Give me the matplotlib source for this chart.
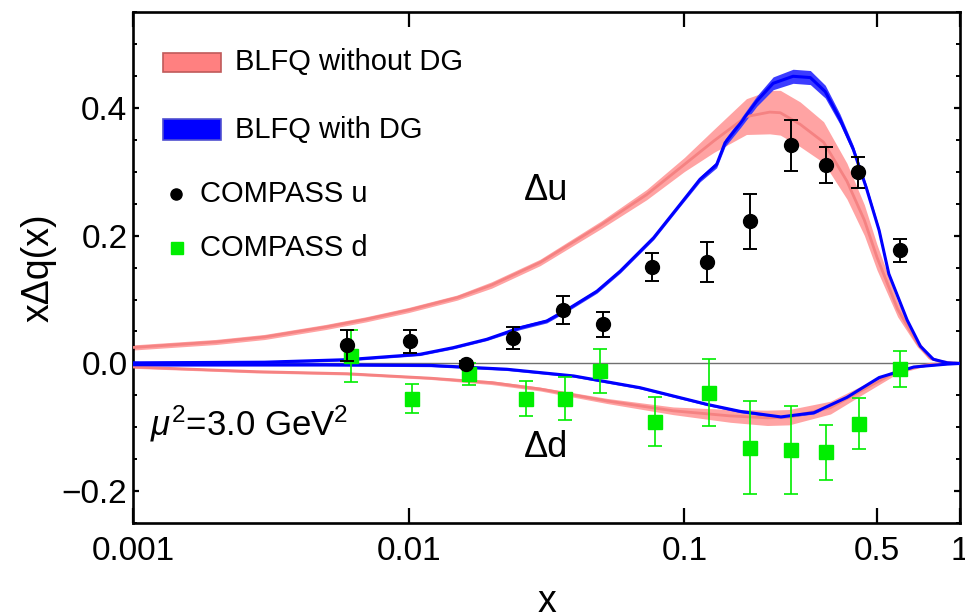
import matplotlib.pyplot as plt
import numpy as np
from matplotlib.patches import Rectangle

plt.rcParams['font.family'] = ['Liberation Sans', 'DejaVu Sans']
plt.rcParams['mathtext.fontset'] = 'custom'
plt.rcParams['mathtext.rm'] = 'Liberation Sans'
plt.rcParams['mathtext.it'] = 'Liberation Sans:italic'

# BLFQ without DG, Delta u (centre and half width of band)
red_u_x = [0.001, 0.002, 0.003, 0.005, 0.007, 0.01, 0.015, 0.02, 0.03, 0.05, 0.073, 0.1,
           0.128, 0.168, 0.204, 0.223, 0.263, 0.32, 0.389, 0.45, 0.5, 0.594, 0.70, 0.776,
           0.85, 0.93, 1.0]
red_u_y = [0.025, 0.0336, 0.0414, 0.057, 0.069, 0.0836, 0.103, 0.1227, 0.158, 0.217, 0.264,
           0.311, 0.348, 0.386, 0.393, 0.392, 0.374, 0.346, 0.285, 0.224, 0.166, 0.085,
           0.032, 0.009, 0.003, 0.001, 0.0]
red_u_hw = [0.004, 0.004, 0.004, 0.004, 0.004, 0.004, 0.004, 0.005, 0.005, 0.006, 0.008,
            0.011, 0.018, 0.028, 0.034, 0.035, 0.035, 0.032, 0.028, 0.024, 0.02, 0.012,
            0.006, 0.003, 0.001, 0.0005, 0.0]

# BLFQ with DG, Delta u
blue_u_x = [0.001, 0.003, 0.006, 0.011, 0.0145, 0.0192, 0.0254, 0.0317, 0.0385, 0.0482,
            0.0586, 0.0774, 0.0967, 0.114, 0.131, 0.1405, 0.16, 0.183, 0.21, 0.248, 0.2865,
            0.3245, 0.367, 0.41, 0.457, 0.509, 0.552, 0.643, 0.7185, 0.8, 0.9, 1.0]
blue_u_y = [0.001, 0.002, 0.006, 0.0144, 0.0247, 0.0378, 0.056, 0.0664, 0.087, 0.113,
            0.1445, 0.1966, 0.249, 0.288, 0.311, 0.345, 0.376, 0.41, 0.438, 0.449, 0.447,
            0.425, 0.382, 0.335, 0.275, 0.208, 0.14, 0.068, 0.027, 0.0066, 0.001, 0.0]
blue_u_hw = [0.002, 0.002, 0.002, 0.002, 0.002, 0.002, 0.003, 0.003, 0.003, 0.003, 0.003,
             0.003, 0.003, 0.004, 0.005, 0.006, 0.007, 0.008, 0.01, 0.011, 0.011, 0.01,
             0.008, 0.006, 0.005, 0.004, 0.003, 0.002, 0.002, 0.001, 0.0005, 0.0]

# BLFQ without DG, Delta d
red_d_x = [0.001, 0.0028, 0.006, 0.012, 0.02, 0.03, 0.0524, 0.0911, 0.147, 0.2, 0.24,
           0.339, 0.449, 0.594, 0.78, 0.9, 1.0]
red_d_y = [-0.0055, -0.0128, -0.016, -0.023, -0.03, -0.040, -0.0586, -0.074, -0.082,
           -0.085, -0.084, -0.069, -0.040, -0.0117, -0.0013, -0.0003, 0.0]
red_d_hw = [0.002, 0.002, 0.002, 0.002, 0.003, 0.003, 0.004, 0.006, 0.01, 0.012, 0.012,
            0.01, 0.007, 0.004, 0.001, 0.0, 0.0]

# BLFQ with DG, Delta d
blue_d_x = [0.001, 0.005, 0.012, 0.0227, 0.0397, 0.069, 0.121, 0.16, 0.224, 0.295, 0.389,
            0.509, 0.68, 0.9, 1.0]
blue_d_y = [-0.002, -0.002, -0.003, -0.009, -0.0195, -0.0378, -0.064, -0.075, -0.0836,
            -0.077, -0.053, -0.022, -0.0055, -0.001, 0.0]
blue_d_hw = [0.002, 0.002, 0.002, 0.002, 0.002, 0.002, 0.002, 0.002, 0.002, 0.002, 0.002,
             0.002, 0.001, 0.0005, 0.0]

# COMPASS data
u_x = [0.0060, 0.0101, 0.0161, 0.0240, 0.0362, 0.0505, 0.0763, 0.1209, 0.1736, 0.2438,
       0.3275, 0.4268, 0.607]
u_y = [0.0285, 0.035, -0.001, 0.040, 0.083, 0.061, 0.151, 0.159, 0.222, 0.341, 0.310,
       0.299, 0.177]
u_err = [0.024, 0.018, 0.005, 0.017, 0.022, 0.020, 0.022, 0.031, 0.043, 0.040, 0.028,
         0.024, 0.018]

d_x = [0.0062, 0.0103, 0.0165, 0.0267, 0.037, 0.0496, 0.0785, 0.1232, 0.1726, 0.2439,
       0.3275, 0.4293, 0.6047]
d_y = [0.0117, -0.055, -0.017, -0.055, -0.055, -0.0117, -0.091, -0.0456, -0.1316, -0.135,
       -0.139, -0.094, -0.009]
d_err = [0.040, 0.023, 0.017, 0.027, 0.034, 0.034, 0.038, 0.052, 0.073, 0.069, 0.043,
         0.040, 0.028]

x_ticks = [0.001, 0.01, 0.1, 0.5, 1]
x_ticklabels = ['0.001', '0.01', '0.1', '0.5', '1']
y_ticks = [-0.2, 0.0, 0.2, 0.4]
y_ticklabels = ['\u22120.2', '0.0', '0.2', '0.4']

RED_FILL = '#ffa3a3'
RED_LINE = '#f58282'
BLUE_FILL = '#3c3cff'
BLUE_LINE = '#0000ff'

fig = plt.figure(figsize=(9.65, 6.15), dpi=100)
ax = fig.add_axes([0.1378, 0.149, 0.857, 0.832])

ax.axhline(0, color='#707070', lw=1.0, zorder=1)


def band(x, y, hw, fill, line, lw):
    x = np.array(x)
    y = np.array(y)
    hw = np.array(hw)
    ax.fill_between(x, y - hw, y + hw, color=fill, lw=0, zorder=2)
    ax.plot(x, y, color=line, lw=lw, zorder=3, solid_capstyle='butt')


band(red_u_x, red_u_y, red_u_hw, RED_FILL, RED_LINE, 2.0)
band(red_d_x, red_d_y, red_d_hw, RED_FILL, RED_LINE, 2.0)
band(blue_u_x, blue_u_y, blue_u_hw, BLUE_FILL, BLUE_LINE, 2.2)
band(blue_d_x, blue_d_y, blue_d_hw, BLUE_FILL, BLUE_LINE, 2.2)

ax.errorbar(u_x, u_y, yerr=u_err, fmt='o', color='black', ms=10, elinewidth=1.4,
            capsize=5, capthick=1.4, zorder=5)
ax.errorbar(d_x, d_y, yerr=d_err, fmt='s', color='#00ee00', ms=9.5, elinewidth=1.2,
            capsize=5, capthick=1.2, zorder=4)

ax.set_xscale('log')
ax.set_xlim(0.001, 1)
ax.set_ylim(-0.25, 0.55)
ax.set_xticks(x_ticks)
ax.set_xticklabels(x_ticklabels)
ax.xaxis.set_minor_locator(plt.NullLocator())
ax.set_yticks(y_ticks)
ax.set_yticklabels(y_ticklabels)
ax.set_yticks(np.arange(-0.25, 0.551, 0.05), minor=True)

ax.tick_params(axis='x', which='major', direction='in', top=True, length=11, width=1.6,
               labelsize=24, pad=9)
ax.tick_params(axis='y', which='major', direction='in', right=True, length=4.5, width=1.6,
               labelsize=24, pad=4)
ax.tick_params(axis='y', which='minor', direction='in', right=True, length=2.8, width=1.4)
for s in ax.spines.values():
    s.set_linewidth(1.9)

ax.set_xlabel('x', fontsize=27, labelpad=12)
ax.set_ylabel('x\u0394q(x)', fontsize=27, labelpad=4)

# annotations
ax.text(0.4994, 0.651, '\u0394u', transform=ax.transAxes, fontsize=26, ha='center', va='center')
ax.text(0.4994, 0.149, '\u0394d', transform=ax.transAxes, fontsize=26, ha='center', va='center')
ax.text(0.0206, 0.1726, r'$\mu^2$=3.0 GeV$^2$', transform=ax.transAxes, fontsize=25,
        ha='left', va='baseline')

# hand made legend
ax.add_patch(Rectangle((0.0363, 0.8816), 0.0701, 0.0383, transform=ax.transAxes,
                       facecolor='#ff8080', edgecolor='#c05a5a', lw=1.2, zorder=6))
ax.add_patch(Rectangle((0.0363, 0.7492), 0.0701, 0.0411, transform=ax.transAxes,
                       facecolor='#0000ff', edgecolor='#5050d0', lw=1.2, zorder=6))
ax.text(0.1233, 0.9007, 'BLFQ without DG', transform=ax.transAxes, fontsize=21, va='center')
ax.text(0.1233, 0.7697, 'BLFQ with DG', transform=ax.transAxes, fontsize=21, va='center')
ax.plot([0.052], [0.643], 'o', color='black', ms=8, transform=ax.transAxes, zorder=6)
ax.text(0.081, 0.643, 'COMPASS u', transform=ax.transAxes, fontsize=21, va='center')
ax.plot([0.0528], [0.5387], 's', color='#00ee00', ms=9, transform=ax.transAxes, zorder=6)
ax.text(0.081, 0.5387, 'COMPASS d', transform=ax.transAxes, fontsize=21, va='center')

fig.savefig('out.png', dpi=100)
